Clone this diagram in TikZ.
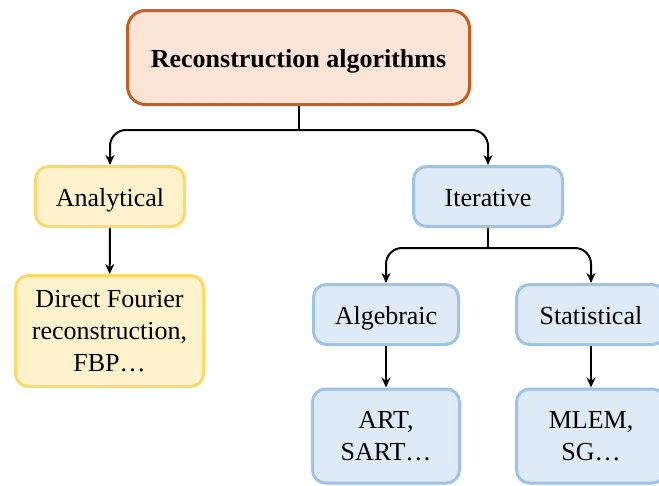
\documentclass[tikz,border=0pt]{standalone}
\usepackage{fontspec}
\setmainfont{Liberation Serif}
\usetikzlibrary{arrows.meta}
\definecolor{orgB}{RGB}{199,94,31}
\definecolor{orgF}{RGB}{250,228,214}
\definecolor{yelB}{RGB}{255,217,102}
\definecolor{yelF}{RGB}{255,242,204}
\definecolor{bluB}{RGB}{157,195,230}
\definecolor{bluF}{RGB}{222,235,247}
\tikzset{
  box/.style={draw, line width=3pt, rounded corners=13pt, align=center, inner sep=0pt,
    font=\fontsize{26}{32}\selectfont},
  one/.style={text height=22pt, text depth=2pt},
  ybox/.style={box, draw=yelB, fill=yelF},
  bbox/.style={box, draw=bluB, fill=bluF},
  obox/.style={box, draw=orgB, fill=orgF, rounded corners=18pt, font=\fontsize{26}{32}\selectfont\bfseries},
  conn/.style={line width=2pt, -{Stealth[length=10pt,width=9pt]}},
  plain/.style={line width=2pt},
}
\begin{document}
\begin{tikzpicture}[x=1pt,y=-1pt]
\useasboundingbox (0,0) rectangle (659,485);
\clip (0,0) rectangle (659,485);
\node[obox, one, minimum width=342pt, minimum height=94pt] (top) at (298.5,57.5) {Reconstruction algorithms};
\node[ybox, one, minimum width=149pt, minimum height=60pt] (ana) at (110,196.5) {Analytical};
\node[ybox, minimum width=188pt, minimum height=111pt] (dfr) at (109.5,331) {Direct Fourier\\reconstruction,\\FBP…};
\node[bbox, one, minimum width=149pt, minimum height=60pt] (ite) at (488,196.5) {Iterative};
\node[bbox, one, minimum width=145pt, minimum height=60pt] (alg) at (386,314.5) {Algebraic};
\node[bbox, one, minimum width=149pt, minimum height=60pt] (sta) at (591,314.5) {Statistical};
\node[bbox, minimum width=147pt, minimum height=94pt, text depth=0pt] (art) at (386,436) {ART,\\SART…};
\node[bbox, minimum width=149pt, minimum height=94pt, text depth=0pt] (mle) at (591,436) {MLEM,\\SG…};
\draw[plain] (top.south) -- ++(0,24) coordinate (j1);
\draw[conn, rounded corners=16pt] (j1) -| (ana.north);
\draw[conn, rounded corners=16pt] (j1) -| (ite.north);
\draw[plain] (ite.south) -- ++(0,20) coordinate (j2);
\draw[conn, rounded corners=16pt] (j2) -| (alg.north);
\draw[conn, rounded corners=16pt] (j2) -| (sta.north);
\draw[conn] (ana) -- (dfr);
\draw[conn] (alg) -- (art);
\draw[conn] (sta) -- (mle);
\end{tikzpicture}
\end{document}
